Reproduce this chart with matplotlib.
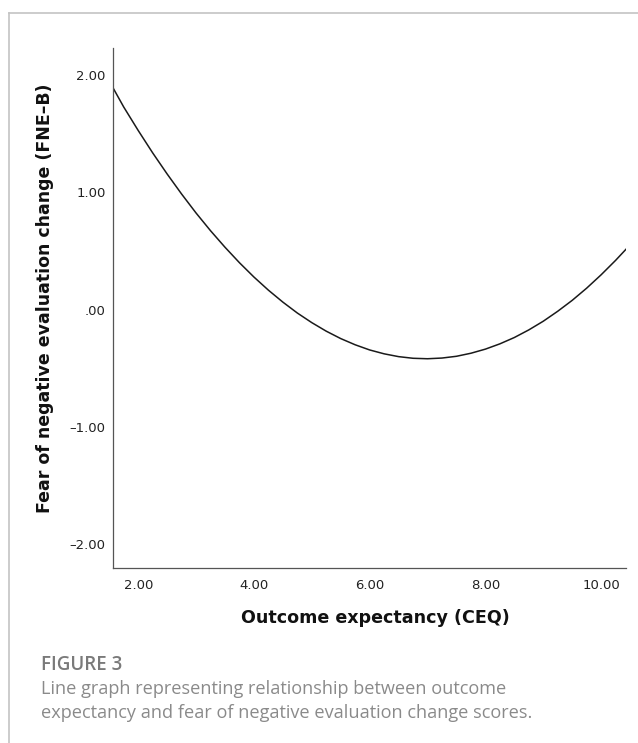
import matplotlib
matplotlib.use("Agg")
import matplotlib.pyplot as plt
from matplotlib.lines import Line2D

# values (outcome expectancy vs FNE-B change)
ceq = [1.56, 1.75, 2.00, 2.25, 2.50, 2.75, 3.00, 3.25, 3.50, 3.75, 4.00,
       4.25, 4.50, 4.75, 5.00, 5.25, 5.50, 5.75, 6.00, 6.25, 6.50, 6.75,
       7.00, 7.25, 7.50, 7.75, 8.00, 8.25, 8.50, 8.75, 9.00, 9.25, 9.50,
       9.75, 10.00, 10.25, 10.43]
fne_change = [1.895, 1.727, 1.527, 1.336, 1.156, 0.985, 0.823, 0.672, 0.531,
              0.399, 0.277, 0.165, 0.063, -0.030, -0.112, -0.185, -0.248,
              -0.301, -0.345, -0.378, -0.402, -0.416, -0.420, -0.414, -0.399,
              -0.373, -0.338, -0.293, -0.239, -0.174, -0.100, -0.015, 0.078,
              0.182, 0.296, 0.419, 0.514]

xticks = [2, 4, 6, 8, 10]
xtick_labels = ["2.00", "4.00", "6.00", "8.00", "10.00"]
yticks = [-2, -1, 0, 1, 2]
ytick_labels = ["\u20132.00", "\u20131.00", ".00", "1.00", "2.00"]

fig = plt.figure(figsize=(6.38, 7.43), dpi=100)
ax = fig.add_axes([0.1767, 0.2355, 0.8045, 0.7003])

ax.plot(ceq, fne_change, color="#1a1a1a", lw=1.1)
ax.set_xlim(1.56, 10.43)
ax.set_ylim(-2.205, 2.233)

for s in ["top", "right"]:
    ax.spines[s].set_visible(False)
for s in ["left", "bottom"]:
    ax.spines[s].set_color("#555555")
    ax.spines[s].set_linewidth(0.9)

ax.set_xticks(xticks)
ax.set_xticklabels(xtick_labels)
ax.set_yticks(yticks)
ax.set_yticklabels(ytick_labels)
ax.tick_params(length=0, labelsize=9.5, colors="#222222")
ax.tick_params(axis="x", pad=8)
ax.tick_params(axis="y", pad=5)

fig.text(0.589, 0.168, "Outcome expectancy (CEQ)", ha="center", va="center",
         fontsize=12.6, fontweight="bold", color="#111111")
fig.text(0.0705, 0.599, "Fear of negative evaluation change (FNE\u2013B)",
         ha="center", va="center", rotation=90,
         fontsize=12.5, fontweight="bold", color="#111111")

# card frame (top and left edges only)
fig.add_artist(Line2D([0.0146, 1.0], [0.982, 0.982], color="#c4c4c4", lw=1.2))
fig.add_artist(Line2D([0.0146, 0.0146], [0.0, 0.982], color="#c4c4c4", lw=1.2))

fig.text(0.0643, 0.105, "FIGURE 3", ha="left", va="center",
         fontsize=13.5, fontweight="semibold", color="#7a7a7a", family="Open Sans")
fig.text(0.0643, 0.0727, "Line graph representing relationship between outcome",
         ha="left", va="center", fontsize=13.1, color="#8a8a8a", family="Open Sans")
fig.text(0.0643, 0.0404, "expectancy and fear of negative evaluation change scores.",
         ha="left", va="center", fontsize=13.1, color="#8a8a8a", family="Open Sans")

fig.savefig("out.png", dpi=100, facecolor="white")
